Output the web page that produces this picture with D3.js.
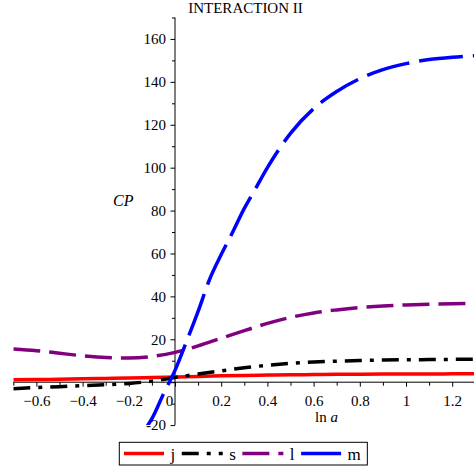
<!DOCTYPE html>
<html>
<head>
<meta charset="utf-8">
<script src="https://cdn.jsdelivr.net/npm/d3@7"></script>
<style>
  html, body { margin: 0; padding: 0; background: #fff; }
  svg { display: block; }
  text { font-family: "Liberation Serif", "Times New Roman", serif; fill: #000; }
</style>
</head>
<body>
<svg id="chart" width="474" height="471" font-family="'Liberation Serif', 'Times New Roman', serif"></svg>
<script>
// ---- data ----
const title = "INTERACTION II";
const xGrid = [-0.7,-0.6,-0.5,-0.4,-0.3,-0.2,-0.1,0,0.1,0.2,0.3,0.4,0.5,0.6,0.7,0.8,0.9,1.0,1.1,1.2,1.3];
const jValues = [1.1,1.2,1.4,1.55,1.75,1.95,2.2,2.45,2.7,2.95,3.15,3.3,3.45,3.55,3.65,3.72,3.78,3.82,3.85,3.88,3.9];
const sValues = [-3.0,-2.5,-2.1,-1.6,-1.2,-0.6,0.5,2.2,3.8,5.3,6.7,7.9,8.8,9.4,9.8,10.1,10.3,10.45,10.55,10.65,10.7];
const lValues = [15.5,14.7,13.5,12.3,11.5,11.3,12.0,13.9,16.9,20.5,24.0,27.4,30.2,32.3,33.7,34.8,35.5,36.0,36.35,36.6,36.8];
const mX = [-0.14,-0.1,-0.05,0,0.05,0.1,0.15,0.2,0.25,0.3,0.35,0.4,0.5,0.6,0.7,0.8,0.9,1.0,1.1,1.2,1.3];
const mValues = [-23.5,-17,-5.5,5.5,19,33,48,59.5,70,81,90.5,100,116,127.5,135.5,141.5,145.7,148.5,150.4,151.5,152.2];
const seriesNames = ["j","s","l","m"];
const seriesColors = ["#ff0000","#000000","#800080","#0000ff"];
const seriesDash = [null,"17,8,4,8","27,9","44,10"];
const xMajorTicks = [-0.6,-0.4,-0.2,0,0.2,0.4,0.6,0.8,1,1.2];
const xMinorTicks = [-0.7,-0.5,-0.3,-0.1,0.1,0.3,0.5,0.7,0.9,1.1,1.3];
const yMajorTicks = [-20,0,20,40,60,80,100,120,140,160];
const yMinorTicks = [-10,10,30,50,70,90,110,130,150,170];
const xLabel = "ln";
const xLabelItalic = "a";
const yLabel = "CP";

// ---- layout ----
const FONT = "'Liberation Serif', 'Times New Roman', serif";
const svg = d3.select("#chart");
const x = d3.scaleLinear().domain([-0.7, 1.3]).range([13.3, 475.3]);
const y = d3.scaleLinear().domain([-20, 170]).range([425.1, 17.5]);

const series = [
  { name: seriesNames[0], xs: xGrid, vs: jValues },
  { name: seriesNames[1], xs: xGrid, vs: sValues },
  { name: seriesNames[2], xs: xGrid, vs: lValues },
  { name: seriesNames[3], xs: mX, vs: mValues }
].map((s, i) => ({ ...s, color: seriesColors[i], dash: seriesDash[i],
  pts: s.xs.map((xv, k) => [xv, s.vs[k]]) }));

// title
svg.append("text").attr("x", 245.5).attr("y", 13).attr("text-anchor", "middle")
  .style("font-size", "15px").text(title);

// x axis
const xAxisG = svg.append("g").attr("transform", `translate(0,${y(0)})`);
xAxisG.call(d3.axisBottom(x).tickValues(xMajorTicks).tickSize(4.5).tickPadding(9)
  .tickFormat(d => d === 0 ? "0" : d3.format("")(d)));
xAxisG.attr("font-family", FONT).attr("font-size", 15);
xAxisG.select(".domain").remove();
xAxisG.append("line").attr("x1", x(-0.7)).attr("x2", 474).attr("stroke", "#000").attr("stroke-width", 1);
xAxisG.selectAll(".tick text").attr("dx", d => d === 0 ? -6 : 0);
const xMinorG = svg.append("g").attr("transform", `translate(0,${y(0)})`);
xMinorG.call(d3.axisBottom(x).tickValues(xMinorTicks).tickSize(3.5).tickFormat(""));
xMinorG.select(".domain").remove();

// y axis
const yAxisG = svg.append("g").attr("transform", `translate(${x(0)},0)`);
yAxisG.call(d3.axisLeft(y).tickValues(yMajorTicks).tickSize(4.5).tickPadding(4.5)
  .tickFormat(d => d === 0 ? "" : String(d)));
yAxisG.attr("font-family", FONT).attr("font-size", 15);
yAxisG.select(".domain").remove();
yAxisG.append("line").attr("y1", y(170)).attr("y2", y(-20)).attr("stroke", "#000").attr("stroke-width", 1);
const yMinorG = svg.append("g").attr("transform", `translate(${x(0)},0)`);
yMinorG.call(d3.axisLeft(y).tickValues(yMinorTicks).tickSize(3).tickFormat(""));
yMinorG.select(".domain").remove();

// axis labels
svg.append("text").attr("x", 113).attr("y", 206).style("font-size", "16px")
  .style("font-style", "italic").text(yLabel);
const xl = svg.append("text").attr("x", 315).attr("y", 422).style("font-size", "15px");
xl.append("tspan").text(xLabel + " ");
xl.append("tspan").style("font-style", "italic").text(xLabelItalic);

// clip
svg.append("defs").append("clipPath").attr("id", "plotclip")
  .append("rect").attr("x", x(-0.7)).attr("y", 0).attr("width", 474 - x(-0.7)).attr("height", y(-20));

const line = d3.line().x(d => x(d[0])).y(d => y(d[1])).curve(d3.curveMonotoneX);
const plot = svg.append("g").attr("clip-path", "url(#plotclip)");
series.forEach(s => {
  plot.append("path").datum(s.pts).attr("d", line)
    .attr("fill", "none").attr("stroke", s.color).attr("stroke-width", 3.5)
    .attr("stroke-dasharray", s.dash);
});

// legend
const leg = svg.append("g");
const legY = 453.5;
let cx = 124;
series.forEach(s => {
  const sampleLen = (s.name === "j" || s.name === "m") ? 40 : 41;
  leg.append("line").attr("x1", cx).attr("x2", cx + sampleLen).attr("y1", legY).attr("y2", legY)
    .attr("stroke", s.color).attr("stroke-width", 3.5).attr("stroke-dasharray", s.dash);
  cx += sampleLen + 6.5;
  const t = leg.append("text").attr("x", cx).attr("y", legY + 6).style("font-size", "17px").text(s.name);
  cx += t.node().getComputedTextLength() + 6.5;
});
leg.insert("rect", ":first-child").attr("x", 119.3).attr("y", 442.3).attr("width", cx - 119.3)
  .attr("height", 22.7).attr("fill", "#fff").attr("stroke", "#000").attr("stroke-width", 1);
</script>
</body>
</html>
